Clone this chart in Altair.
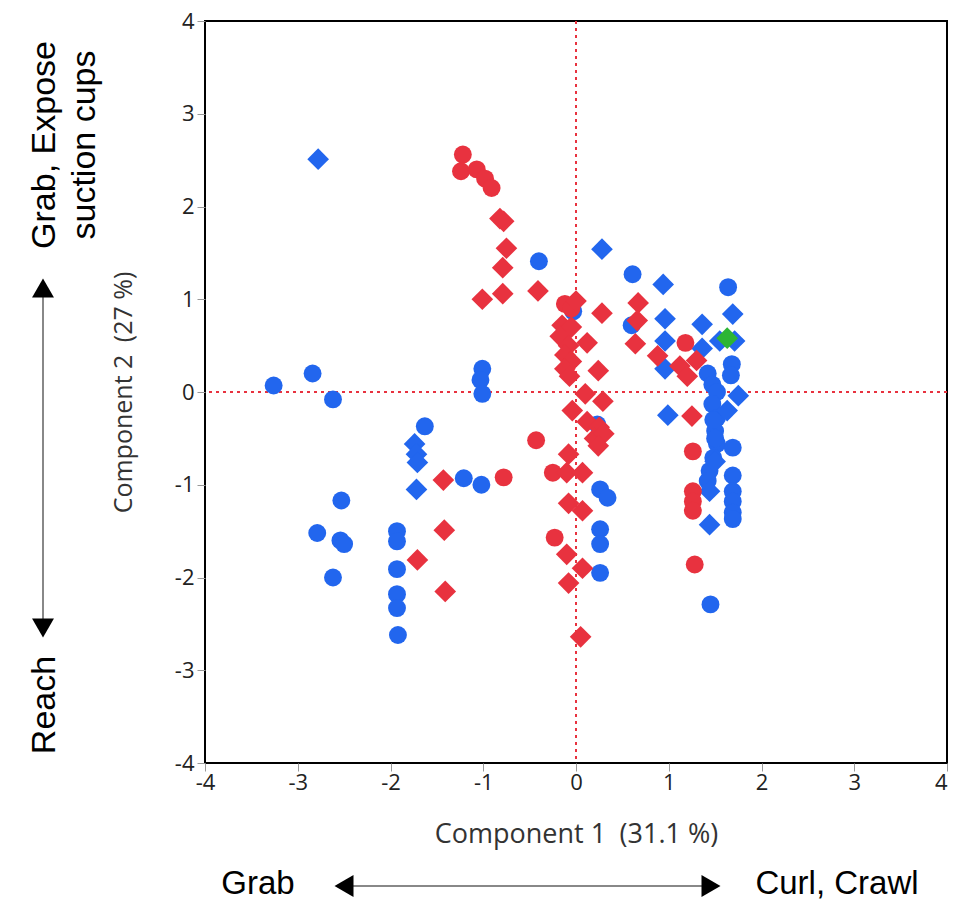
import altair as alt
import pandas as pd

# ---- data (Component 1, Component 2) ----
blue_circle_x = [-3.26, -2.84, -2.62, -1.63, -1.01, -1.03, -1.01, -1.21, -1.02,
                 -2.53, -2.79, -2.54, -2.50, -2.62, -1.93, -1.93, -1.93, -1.93,
                 -1.93, -1.92, -0.40, -0.03, 0.61, 0.60, 1.64, 1.68, 1.67,
                 1.42, 1.47, 1.52, 1.47, 1.52, 1.50, 1.52, 1.48, 1.44, 1.42,
                 1.50, 1.48, 1.69, 1.69, 1.69, 1.69, 1.69, 1.69, 1.45,
                 0.26, 0.34, 0.26, 0.26, 0.26, 0.23]
blue_circle_y = [0.07, 0.20, -0.08, -0.37, 0.25, 0.13, -0.02, -0.93, -1.00,
                 -1.17, -1.52, -1.60, -1.64, -2.00, -1.50, -1.61, -1.91, -2.18,
                 -2.33, -2.62, 1.41, 0.87, 1.27, 0.72, 1.13, 0.30, 0.18,
                 0.20, 0.08, 0.00, -0.13, -0.28, -0.42, -0.56, -0.71, -0.85, -0.96,
                 -0.50, -0.30, -0.60, -0.90, -1.07, -1.18, -1.30, -1.37, -2.29,
                 -1.05, -1.14, -1.48, -1.64, -1.95, -0.35]

blue_diamond_x = [-2.78, 0.28, 0.94, 0.96, 0.96, 0.96, 0.99, 1.36, 1.36, 1.55,
                  1.69, 1.71, 1.75, 1.63, 1.44, 1.44, 1.50, -1.74, -1.72, -1.71, -1.72]
blue_diamond_y = [2.51, 1.54, 1.16, 0.79, 0.55, 0.25, -0.25, 0.73, 0.47, 0.55,
                  0.84, 0.55, -0.04, -0.20, -1.07, -1.43, -0.75, -0.56, -0.67, -0.76, -1.05]

red_circle_x = [-1.22, -1.24, -1.07, -0.98, -0.91, -0.43, -0.78, -0.25, -0.23,
                -0.12, -0.05, 1.18, 1.26, 1.26, 1.26, 1.26, 1.28]
red_circle_y = [2.56, 2.38, 2.40, 2.30, 2.20, -0.52, -0.92, -0.87, -1.57,
                0.95, 0.90, 0.53, -0.64, -1.07, -1.18, -1.28, -1.86]

red_diamond_x = [-1.01, -0.79, -0.41, -0.79, -0.75, -0.78, -0.82,
                 0.00, -0.15, -0.05, -0.17, -0.08, -0.12, -0.05, -0.12, -0.07,
                 0.12, 0.28, 0.24, 0.10, 0.29, -0.04, 0.12, 0.25, 0.20, 0.30, 0.24,
                 -0.08, -0.10, 0.07, -0.08, 0.07, -0.10, 0.07, -0.08, 0.05,
                 -1.43, -1.42, -1.71, -1.41,
                 0.67, 0.66, 0.64, 0.88, 1.12, 1.30, 1.20, 1.25]
red_diamond_y = [1.00, 1.06, 1.09, 1.34, 1.55, 1.84, 1.87,
                 0.98, 0.72, 0.70, 0.60, 0.50, 0.40, 0.33, 0.25, 0.17,
                 0.53, 0.85, 0.23, -0.02, -0.10, -0.20, -0.32, -0.38, -0.50, -0.45, -0.58,
                 -0.67, -0.87, -0.87, -1.20, -1.28, -1.75, -1.90, -2.06, -2.64,
                 -0.95, -1.49, -1.81, -2.15,
                 0.96, 0.77, 0.52, 0.39, 0.28, 0.34, 0.17, -0.26]

green_diamond_x = [1.63]
green_diamond_y = [0.58]

axis_ticks = [-4, -3, -2, -1, 0, 1, 2, 3, 4]

RED = "#e8323f"
BLUE = "#2266ee"
GREEN = "#2db534"


def part(xs, ys, group, marker):
    return pd.DataFrame({"c1": xs, "c2": ys, "group": group, "marker": marker})


df = pd.concat([
    part(blue_circle_x, blue_circle_y, "blue", "circle"),
    part(blue_diamond_x, blue_diamond_y, "blue", "diamond"),
    part(red_circle_x, red_circle_y, "red", "circle"),
    part(red_diamond_x, red_diamond_y, "red", "diamond"),
    part(green_diamond_x, green_diamond_y, "green", "diamond"),
], ignore_index=True)

TICK_FONT = "Open Sans"
ANN_FONT = "Liberation Sans"

xscale = alt.Scale(domain=[-4, 4], nice=False, zero=False)
yscale = alt.Scale(domain=[-4, 4], nice=False, zero=False)

common_axis = dict(values=axis_ticks, grid=False, domain=False, tickColor="#999999",
                   tickSize=8, tickWidth=1, labelFont=TICK_FONT, labelFontSize=22,
                   labelColor="#222222", labelFlush=False, labelOverlap=False,
                   labelExpr="'' + datum.value",
                   titleFont=TICK_FONT, titleFontWeight="normal",
                   titleColor="#333333")

points = alt.Chart(df).mark_point(filled=True, opacity=1, strokeWidth=0).encode(
    x=alt.X("c1:Q", scale=xscale,
            axis=alt.Axis(title="Component 1\u2002(31.1 %)", labelPadding=1,
                          titlePadding=28, titleFontSize=27,
                          labelAlign={"condition": {"test": "datum.value == 4",
                                                    "value": "right"},
                                      "value": "center"},
                          **common_axis)),
    y=alt.Y("c2:Q", scale=yscale,
            axis=alt.Axis(title="Component 2\u2002(27 %)", labelPadding=3,
                          titlePadding=38, titleFontSize=25, **common_axis)),
    color=alt.Color("group:N", scale=alt.Scale(domain=["blue", "red", "green"],
                                               range=[BLUE, RED, GREEN]), legend=None),
    shape=alt.Shape("marker:N", scale=alt.Scale(domain=["circle", "diamond"],
                                                range=["circle", "diamond"]), legend=None),
    size=alt.Size("marker:O", scale=alt.Scale(domain=["circle", "diamond"],
                                              range=[320, 470]), legend=None),
)

zero = pd.DataFrame({"v": [0]})
vline = alt.Chart(zero).mark_rule(color=RED, strokeWidth=2, strokeDash=[3, 4]).encode(
    x=alt.X("v:Q", scale=xscale))
hline = alt.Chart(zero).mark_rule(color=RED, strokeWidth=2, strokeDash=[3, 4]).encode(
    y=alt.Y("v:Q", scale=yscale))


def label(txt, x, y, angle=0, size=34):
    return alt.Chart(pd.DataFrame({"t": [txt]})).mark_text(
        font=ANN_FONT, fontSize=size, color="black", angle=angle,
        align="center", baseline="middle").encode(
        text="t:N", x=alt.value(x), y=alt.value(y))


ann_up1 = label("Grab, Expose", -160, 124, angle=270)
ann_up2 = label("suction cups", -120, 124, angle=270)
ann_down = label("Reach", -160, 684, angle=270)
ann_left = label("Grab", 53, 863, size=33)
ann_right = label("Curl, Crawl", 632, 863, size=33)

vert_line = alt.Chart(zero).mark_rule(color="#888888", strokeWidth=2).encode(
    x=alt.value(-162), y=alt.value(275), y2=alt.value(599))
horiz_line = alt.Chart(zero).mark_rule(color="#888888", strokeWidth=2).encode(
    y=alt.value(865), x=alt.value(146), x2=alt.value(498))


def tri(shape, x, y):
    return alt.Chart(zero).mark_point(shape=shape, filled=True, color="black",
                                      opacity=1, size=480).encode(
        x=alt.value(x), y=alt.value(y))


tri_up = tri("triangle-up", -162, 267)
tri_down = tri("triangle-down", -162, 607)
tri_left = tri("triangle-left", 139, 865)
tri_right = tri("triangle-right", 506, 865)

chart = alt.layer(
    vline, hline, points,
    ann_up1, ann_up2, ann_down, ann_left, ann_right,
    vert_line, horiz_line, tri_up, tri_down, tri_left, tri_right,
).properties(
    width=742, height=742, autosize="none",
    padding={"left": 197, "top": 13, "right": 1, "bottom": 139},
).configure_view(stroke="black", strokeWidth=2)

chart.save("out.html", embed_options={"renderer": "svg", "actions": False})
